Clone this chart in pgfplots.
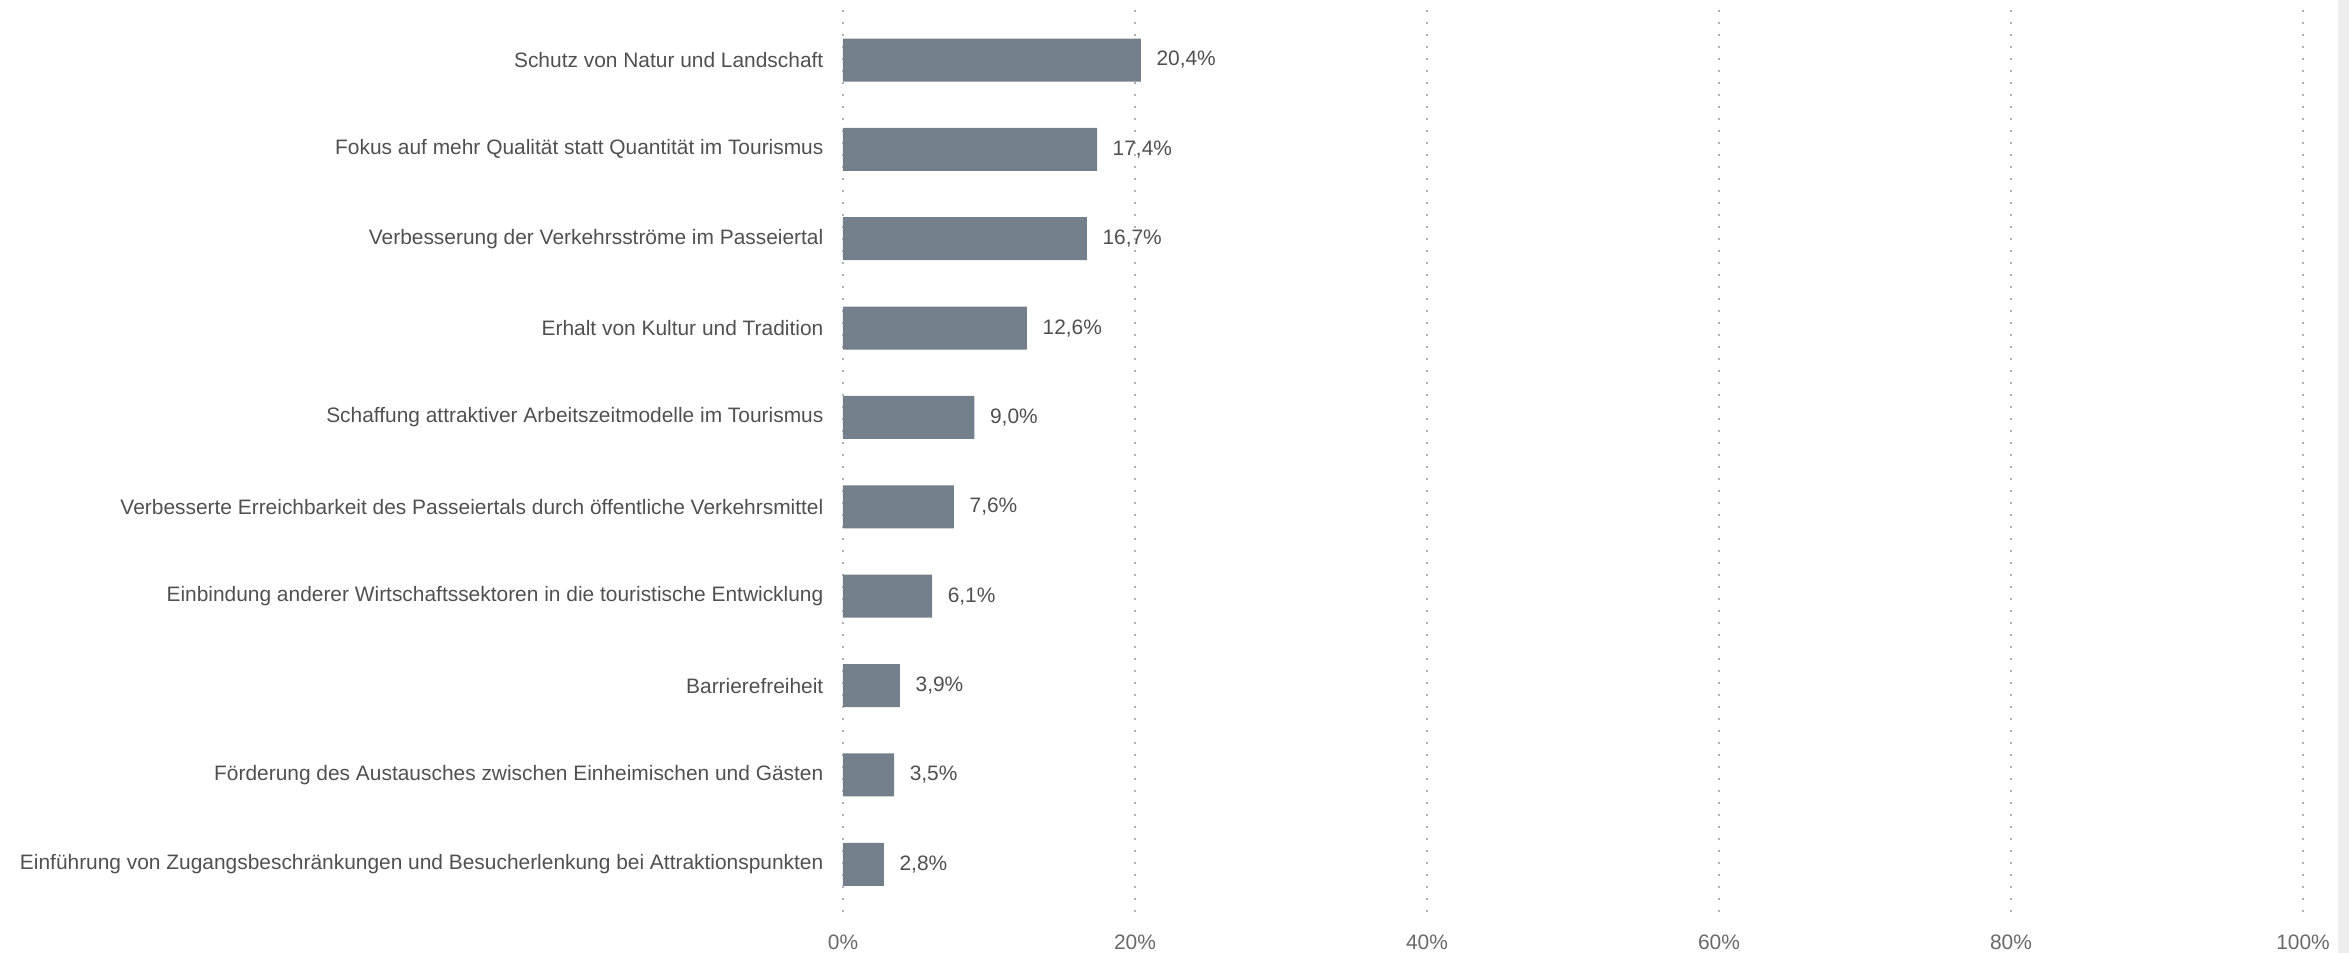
\documentclass[border=0pt]{standalone}
\usepackage{pgfplots}
\pgfplotsset{compat=1.18}
\usepackage{fontspec}
\setmainfont{Liberation Sans}
\definecolor{barc}{RGB}{115,128,140}
\definecolor{txt}{RGB}{80,80,80}
\definecolor{tick}{RGB}{105,105,105}
\begin{document}
\fontsize{5.95pt}{7pt}\selectfont
\begin{tikzpicture}
\path[use as bounding box] (0,0) rectangle (234.9mm,95.3mm);
\fill[black!7] (233.8mm,0) rectangle (234.9mm,95.3mm);
\begin{axis}[
  at={(84.3mm,3.6mm)}, anchor=south west,
  scale only axis, width=146mm, height=90.7mm,
  xbar, bar width=4.3mm,
  xmin=0, xmax=100, ymin=-0.56, ymax=9.59,
  y dir=reverse,
  axis line style={draw=none},
  tick style={draw=none},
  xtick={0,20,40,60,80,100},
  xticklabels={0\%,20\%,40\%,60\%,80\%,100\%},
  xticklabel style={text=tick, font=\fontsize{5.95pt}{7pt}\selectfont, yshift=-1.0mm},
  ytick={0,...,9},
  yticklabels={Schutz von Natur und Landschaft,
    Fokus auf mehr Qualität statt Quantität im Tourismus,
    Verbesserung der Verkehrsströme im Passeiertal,
    Erhalt von Kultur und Tradition,
    Schaffung attraktiver Arbeitszeitmodelle im Tourismus,
    Verbesserte Erreichbarkeit des Passeiertals durch öffentliche Verkehrsmittel,
    Einbindung anderer Wirtschaftssektoren in die touristische Entwicklung,
    Barrierefreiheit,
    Förderung des Austausches zwischen Einheimischen und Gästen,
    Einführung von Zugangsbeschränkungen und Besucherlenkung bei Attraktionspunkten},
  yticklabel style={text=txt, font=\fontsize{5.95pt}{7pt}\selectfont, xshift=0.3mm},
  xmajorgrids,
  grid style={draw=black!30, line width=0.25mm, dash pattern=on 0.25mm off 0.95mm},
  /pgf/number format/assume math mode=true,
  point meta=x,
  nodes near coords={\pgfmathprintnumber[fixed,fixed zerofill,precision=1,use comma]{\pgfplotspointmeta}\%},
  nodes near coords style={anchor=west, inner sep=0pt, xshift=1.5mm, text=txt, font=\fontsize{5.95pt}{7pt}\selectfont},
]
\addplot[fill=barc, draw=none] coordinates {
(20.4,0) (17.4,1) (16.7,2) (12.6,3) (9.0,4) (7.6,5) (6.1,6) (3.9,7) (3.5,8) (2.8,9)};
\end{axis}
\end{tikzpicture}
\end{document}
